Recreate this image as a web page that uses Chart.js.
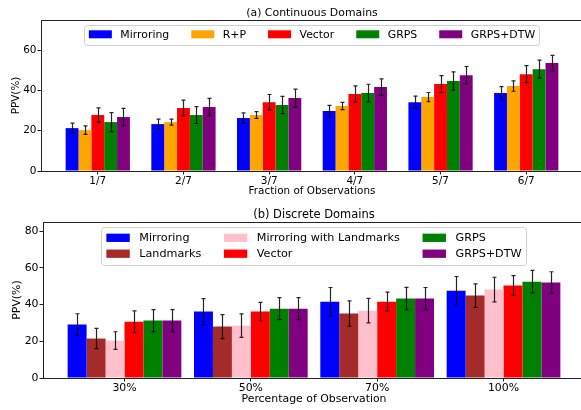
<!DOCTYPE html>
<html><head><meta charset="utf-8">
<script src="https://cdn.jsdelivr.net/npm/chart.js@4/dist/chart.umd.min.js"></script>
<style>
html,body{margin:0;padding:0;background:#fff;}
#wrap{position:relative;width:581px;height:410px;overflow:hidden;background:#fff;}
#c1{position:absolute;left:0;top:0;}
#c2{position:absolute;left:0;top:200px;}
</style></head><body>
<div id="wrap">
<canvas id="c1" width="600" height="200"></canvas>
<canvas id="c2" width="600" height="210"></canvas>
</div>
<script>
// ---------- (a) Continuous Domains ----------
const contTitle = '(a) Continuous Domains';
const contXTitle = 'Fraction of Observations';
const contCategories = ['1/7','2/7','3/7','4/7','5/7','6/7'];
const contSeriesNames = ['Mirroring','R+P','Vector','GRPS','GRPS+DTW'];
const contMirroring    = [21.3, 23.3, 26.3, 29.8, 34.2, 38.7];
const contMirroringErr = [2.5, 2.5, 2.6, 2.8, 3.0, 3.2];
const contRP           = [20.3, 24.3, 27.8, 32.3, 36.7, 42.2];
const contRPErr        = [2.1, 1.5, 1.7, 1.8, 2.3, 2.6];
const contVector       = [27.8, 31.3, 34.2, 38.2, 43.2, 48.1];
const contVectorErr    = [3.6, 3.9, 3.8, 4.1, 4.2, 4.2];
const contGRPS         = [24.3, 27.8, 32.8, 38.7, 44.7, 50.6];
const contGRPSErr      = [4.7, 4.2, 4.3, 4.4, 4.5, 4.5];
const contGRPSDTW      = [26.8, 31.8, 36.2, 41.7, 47.6, 53.6];
const contGRPSDTWErr   = [4.3, 4.3, 4.5, 4.1, 4.3, 3.8];
const contYTicks = [0, 20, 40, 60];

// ---------- (b) Discrete Domains ----------
const discTitle = '(b) Discrete Domains';
const discXTitle = 'Percentage of Observation';
const discCategories = ['30%','50%','70%','100%'];
const discSeriesNames = ['Mirroring','Landmarks','Mirroring with Landmarks','Vector','GRPS','GRPS+DTW'];
const discMirroring    = [29.1, 36.2, 41.6, 47.6];
const discMirroringErr = [5.9, 7.1, 7.7, 7.7];
const discLandmarks    = [21.5, 28.0, 35.1, 44.9];
const discLandmarksErr = [5.5, 6.5, 6.9, 6.4];
const discMwL          = [20.4, 28.5, 36.7, 48.2];
const discMwLErr       = [4.8, 6.4, 6.7, 6.7];
const discVector       = [30.7, 36.2, 41.6, 50.4];
const discVectorErr    = [5.9, 5.0, 5.2, 5.4];
const discGRPS         = [31.3, 37.8, 43.3, 52.5];
const discGRPSErr      = [6.0, 6.0, 6.1, 6.1];
const discGRPSDTW      = [31.3, 37.8, 43.3, 52.0];
const discGRPSDTWErr   = [6.0, 6.0, 6.0, 5.9];
const discYTicks = [0, 20, 40, 60, 80];

const yTitle = 'PPV(%)';
const FONT = 'DejaVu Sans';
Chart.defaults.font.family = FONT;
Chart.defaults.color = '#000';

function mkDs(label, vals, errs, color){
  return {label, data: vals.map((v,i)=>({x:i, y:v})), err: errs,
          backgroundColor: color, borderWidth: 0};
}

const errorBars = {
  id: 'errorBars',
  afterDatasetsDraw(chart){
    const ctx = chart.ctx, ys = chart.scales.y;
    ctx.save();
    ctx.strokeStyle = 'rgba(0,0,0,0.85)';
    ctx.lineWidth = 1.2;
    chart.data.datasets.forEach((ds, di) => {
      const meta = chart.getDatasetMeta(di);
      meta.data.forEach((bar, i) => {
        const v = ds.data[i].y, e = ds.err[i];
        const x = Math.round(bar.x) + 0.5;
        const y1 = ys.getPixelForValue(v + e), y2 = ys.getPixelForValue(v - e);
        ctx.beginPath();
        ctx.moveTo(x, y1); ctx.lineTo(x, y2);
        ctx.moveTo(x - 2, y1); ctx.lineTo(x + 2, y1);
        ctx.moveTo(x - 2, y2); ctx.lineTo(x + 2, y2);
        ctx.stroke();
      });
    });
    ctx.restore();
  }
};

const frameAndText = {
  id: 'frameAndText',
  afterDraw(chart, args, o){
    const ctx = chart.ctx, a = chart.chartArea;
    ctx.save();
    ctx.strokeStyle = '#222'; ctx.lineWidth = 1;
    ctx.strokeRect(Math.round(a.left)+0.5, Math.round(a.top)+0.5, a.right - a.left, a.bottom - a.top);
    ctx.fillStyle = '#000';
    ctx.font = o.titleSize + 'px "' + FONT + '"';
    ctx.textAlign = 'center'; ctx.textBaseline = 'middle';
    ctx.fillText(o.title, (a.left + a.right)/2, o.titleY);
    const L = o.legend;
    ctx.font = L.size + 'px "' + FONT + '"';
    const ds = chart.data.datasets;
    const nrow = Math.ceil(ds.length / L.ncol);
    const colW = [];
    for (let c = 0; c < L.ncol; c++){
      let w = 0;
      for (let r = 0; r < nrow; r++){
        const d = ds[c*nrow + r];
        if (d) w = Math.max(w, ctx.measureText(d.label).width);
      }
      colW.push(L.handleW + L.textGap + w);
    }
    const innerW = colW.reduce((s,w)=>s+w,0) + L.colGap*(L.ncol-1);
    const boxW = innerW + L.padL + L.padR;
    const bx = (a.left + a.right)/2 - boxW/2;
    const by = L.top;
    ctx.fillStyle = 'rgba(255,255,255,0.85)';
    ctx.strokeStyle = '#d0d0d0';
    ctx.lineWidth = 1;
    ctx.beginPath();
    ctx.roundRect(Math.round(bx)+0.5, Math.round(by)+0.5, Math.round(boxW), Math.round(L.height), 3);
    ctx.fill(); ctx.stroke();
    let cx = bx + L.padL;
    for (let c = 0; c < L.ncol; c++){
      for (let r = 0; r < nrow; r++){
        const d = ds[c*nrow + r];
        if (!d) continue;
        const cy = by + L.row0 + r*L.rowGap;
        ctx.fillStyle = d.backgroundColor;
        ctx.fillRect(cx, cy - L.handleH/2, L.handleW, L.handleH);
        ctx.fillStyle = '#000';
        ctx.textAlign = 'left'; ctx.textBaseline = 'middle';
        ctx.fillText(d.label, cx + L.handleW + L.textGap, cy + 0.5);
      }
      cx += colW[c] + L.colGap;
    }
    ctx.restore();
  }
};

function makeChart(id, p){
  return new Chart(document.getElementById(id), {
    type: 'bar',
    data: { datasets: p.datasets },
    options: {
      responsive: false, animation: false,
      layout: { padding: { left: 0, top: p.padTop, right: p.padRight, bottom: 0 } },
      datasets: { bar: { categoryPercentage: p.catPct, barPercentage: 1.0 } },
      plugins: {
        legend: { display: false }, tooltip: { enabled: false },
        frameAndText: { title: p.title, titleY: p.titleY, titleSize: p.titleSize, legend: p.legend }
      },
      scales: {
        x: {
          type: 'linear', min: p.xmin, max: p.xmax, offset: false,
          afterBuildTicks: s => { s.ticks = p.categories.map((c,i)=>({value:i})); },
          afterFit: s => { s.height = p.xAxisH; },
          ticks: { autoSkip: false, maxRotation: 0, padding: 0,
                   font: { size: p.tickSize }, color: '#000',
                   callback: v => p.categories[v] },
          grid: { offset: false, drawOnChartArea: false, drawTicks: true, tickLength: 3.5, color: '#222' },
          border: { display: true, color: '#222', width: 1 },
          title: { display: true, text: p.xTitle, font: { size: p.labelSize }, color: '#000',
                   padding: { top: 0, bottom: p.xTitlePad } }
        },
        y: {
          min: 0, max: p.ymax,
          afterBuildTicks: s => { s.ticks = p.yTicks.map(v=>({value:v})); },
          afterFit: s => { s.width = p.yAxisW; },
          ticks: { padding: 1, font: { size: p.tickSize }, color: '#000' },
          grid: { drawOnChartArea: false, drawTicks: true, tickLength: 3.5, color: '#222' },
          border: { display: true, color: '#222', width: 1 },
          title: { display: true, text: yTitle, font: { size: p.labelSize }, color: '#000',
                   padding: { top: p.yTitlePad, bottom: 0 } }
        }
      }
    },
    plugins: [errorBars, frameAndText]
  });
}

makeChart('c1', {
  datasets: [
    mkDs(contSeriesNames[0], contMirroring, contMirroringErr, '#0000ff'),
    mkDs(contSeriesNames[1], contRP, contRPErr, '#ffa500'),
    mkDs(contSeriesNames[2], contVector, contVectorErr, '#ff0000'),
    mkDs(contSeriesNames[3], contGRPS, contGRPSErr, '#008000'),
    mkDs(contSeriesNames[4], contGRPSDTW, contGRPSDTWErr, '#800080')
  ],
  categories: contCategories, yTicks: contYTicks, ymax: 75,
  xmin: -0.6625, xmax: 5.6625, catPct: 0.75,
  padTop: 20, padRight: 17, yAxisW: 41, xAxisH: 29,
  titleSize: 10.9, tickSize: 10.5, labelSize: 10.4,
  title: contTitle, titleY: 13.5, xTitle: contXTitle, xTitlePad: 2, yTitlePad: 10,
  legend: { ncol: 5, size: 10.9, handleW: 23, handleH: 8, textGap: 8.5, colGap: 22,
            padL: 4.5, padR: 4.5, top: 25, height: 20, row0: 9.3, rowGap: 16 }
});

makeChart('c2', {
  datasets: [
    mkDs(discSeriesNames[0], discMirroring, discMirroringErr, '#0000ff'),
    mkDs(discSeriesNames[1], discLandmarks, discLandmarksErr, '#a52a2a'),
    mkDs(discSeriesNames[2], discMwL, discMwLErr, '#ffc0cb'),
    mkDs(discSeriesNames[3], discVector, discVectorErr, '#ff0000'),
    mkDs(discSeriesNames[4], discGRPS, discGRPSErr, '#008000'),
    mkDs(discSeriesNames[5], discGRPSDTW, discGRPSDTWErr, '#800080')
  ],
  categories: discCategories, yTicks: discYTicks, ymax: 85,
  xmin: -0.645, xmax: 3.645, catPct: 0.9,
  padTop: 22, padRight: 15, yAxisW: 43, xAxisH: 32,
  titleSize: 11.5, tickSize: 10.9, labelSize: 10.9,
  title: discTitle, titleY: 15.5, xTitle: discXTitle, xTitlePad: 4.4, yTitlePad: 10.5,
  legend: { ncol: 3, size: 11.2, handleW: 23.4, handleH: 8.3, textGap: 9.5, colGap: 22.7,
            padL: 5, padR: 5, top: 26.5, height: 37.5, row0: 11.3, rowGap: 15.9 }
});
</script>
</body></html>
